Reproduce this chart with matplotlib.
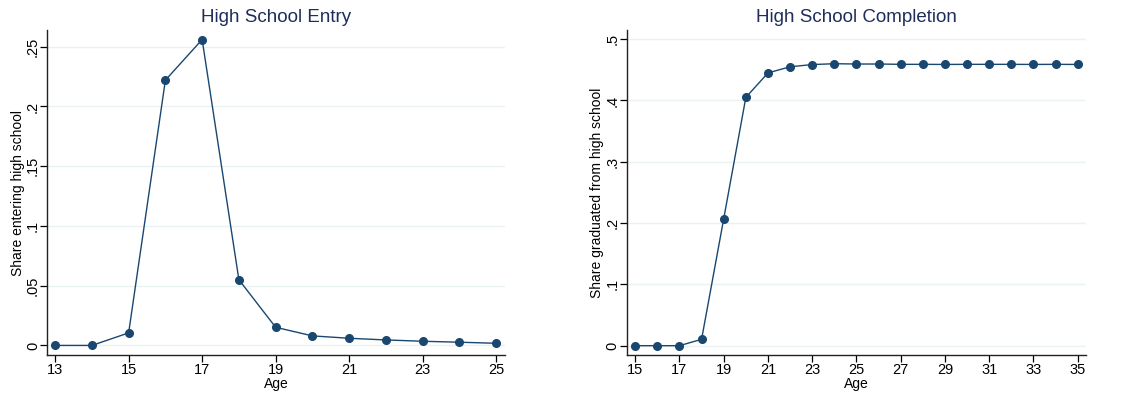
import matplotlib
matplotlib.use("Agg")
import matplotlib.pyplot as plt
from matplotlib.ticker import FuncFormatter

plt.rcParams['font.family'] = ['Liberation Sans', 'DejaVu Sans']

# entry into high school by age
entry_age = [13, 14, 15, 16, 17, 18, 19, 20, 21, 22, 23, 24, 25]
entry_share = [0.0, 0.0, 0.0105, 0.222, 0.256, 0.055, 0.0152, 0.008,
               0.006, 0.0046, 0.0035, 0.0027, 0.0018]

# cumulative graduation by age
grad_age = list(range(15, 36))
grad_share = [0.0, 0.0, 0.0, 0.0104, 0.207, 0.405, 0.445, 0.455, 0.4586,
              0.460, 0.4595, 0.4595, 0.459, 0.459, 0.4588, 0.459, 0.459,
              0.459, 0.4588, 0.459, 0.4588]

navy = '#1a476f'
title_col = '#1e2d5a'
grid_col = '#eaf2f3'


def stata_fmt(v, pos):
    if abs(v) < 1e-9:
        return '0'
    s = ('%g' % v)
    return s.replace('0.', '.', 1)


def style(ax, x, y, title, ylabel, xticks, yticks, xlim, ylim):
    ax.plot(x, y, color=navy, lw=1.0, marker='o', ms=5.5, zorder=3)
    ax.set_title(title, color=title_col, fontsize=13.5, pad=6)
    ax.set_xlabel('Age', fontsize=10, labelpad=0)
    ax.set_ylabel(ylabel, fontsize=10, labelpad=1)
    ax.set_xticks(xticks)
    ax.set_yticks(yticks)
    ax.set_xlim(*xlim)
    ax.set_ylim(*ylim)
    ax.yaxis.set_major_formatter(FuncFormatter(stata_fmt))
    ax.tick_params(axis='y', labelrotation=90, labelsize=10.5, length=5,
                   width=0.9, pad=0)
    ax.tick_params(axis='x', labelsize=10.5, length=5, width=0.9, pad=1)
    for lbl in ax.get_yticklabels():
        lbl.set_va('center')
    ax.grid(axis='y', color=grid_col, lw=1.0, zorder=0)
    ax.spines['top'].set_visible(False)
    ax.spines['right'].set_visible(False)
    for s in ('left', 'bottom'):
        ax.spines[s].set_linewidth(1.0)
        ax.spines[s].set_color('#222222')


fig = plt.figure(figsize=(11.48, 4.0), dpi=100)
ax1 = fig.add_axes([0.041, 0.1125, 0.399, 0.8125])
ax2 = fig.add_axes([0.546, 0.1125, 0.4, 0.8125])

style(ax1, entry_age, entry_share, 'High School Entry',
      'Share entering high school',
      range(13, 26, 2), [0, 0.05, 0.1, 0.15, 0.2, 0.25],
      (12.78, 25.245), (-0.008, 0.264))
style(ax2, grad_age, grad_share, 'High School Completion',
      'Share graduated from high school',
      range(15, 36, 2), [0, 0.1, 0.2, 0.3, 0.4, 0.5],
      (14.62, 35.375), (-0.0152, 0.515))

fig.savefig('out.png', dpi=100, facecolor='white')
